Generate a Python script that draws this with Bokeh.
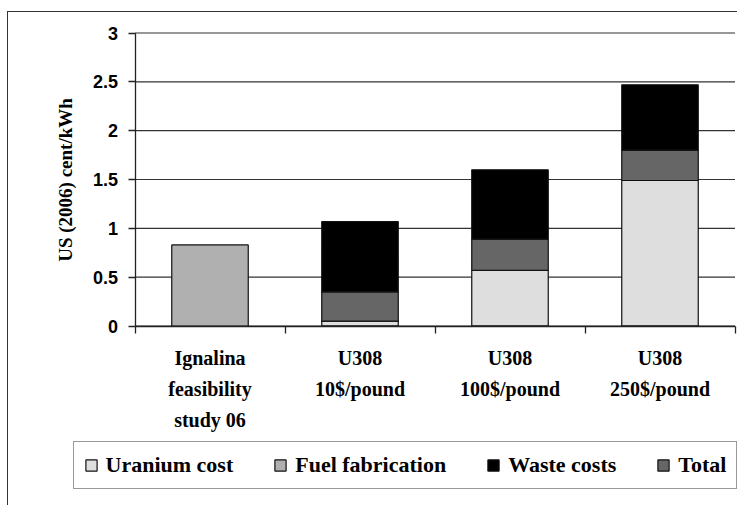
from bokeh.plotting import figure
from bokeh.models import (ColumnDataSource, Range1d, FixedTicker, Legend, LegendItem)
from bokeh.embed import file_html
from bokeh.resources import INLINE

# ---- data ----
categories = ["Ignalina\nfeasibility\nstudy 06", "U308\n10$/pound", "U308\n100$/pound", "U308\n250$/pound"]
uranium_cost = [0.0, 0.05, 0.57, 1.49]
fuel_fabrication = [0.83, 0.0, 0.0, 0.0]
total = [0.0, 0.30, 0.32, 0.31]
waste_costs = [0.0, 0.72, 0.71, 0.67]
y_ticks = [0, 0.5, 1, 1.5, 2, 2.5, 3]
y_tick_labels = ["0", "0.5", "1", "1.5", "2", "2.5", "3"]
series_names = ["Uranium cost", "Fuel fabrication", "Waste costs", "Total"]
colors = {"Uranium cost": "#dedede", "Fuel fabrication": "#b0b0b0",
          "Waste costs": "#000000", "Total": "#666666"}

n_cat = len(categories)
x_pos = [i + 0.5 for i in range(n_cat)]
src = ColumnDataSource(dict(x=x_pos, uranium=uranium_cost, fuel=fuel_fabrication,
                            total=total, waste=waste_costs))
grid_src = ColumnDataSource(dict(y=y_ticks, x0=[0] * len(y_ticks), x1=[n_cat] * len(y_ticks)))

# layout geometry (pixels): the frame covers the whole canvas; axes sit at data zero
W, H = 730, 494
left_px, top_px = 8.5, 12.5          # canvas origin on the page
axis_x_px, y0_px, y3_px = 135.0, 326.0, 33.0
cat_px = 150.0
unit_px = (y0_px - y3_px) / 3.0
x_start = (left_px - axis_x_px) / cat_px
x_end = (left_px + W - axis_x_px) / cat_px
y_end = 3 + (y3_px - top_px) / unit_px
y_start = -(top_px + H - y0_px) / unit_px

p = figure(width=W, height=H, output_backend="svg", toolbar_location=None,
           x_range=Range1d(x_start, x_end), y_range=Range1d(y_start, y_end),
           min_border=0, min_border_left=0, min_border_right=0, min_border_top=0, min_border_bottom=0)
p.styles = {"margin-top": "11px", "margin-left": "7px",
            "border-left": "1.5px solid #333", "border-top": "1.5px solid #333"}
p.outline_line_color = None
p.background_fill_color = "white"
p.border_fill_color = "white"
p.xgrid.grid_line_color = None
p.ygrid.grid_line_color = None

# horizontal gridlines over the plot area only
p.segment(x0="x0", x1="x1", y0="y", y1="y", source=grid_src, line_color="#333333", line_width=1.2)

# bars
stack_r = p.vbar_stack(["uranium", "total", "waste"], x="x", width=0.51, source=src,
                       fill_color=[colors["Uranium cost"], colors["Total"], colors["Waste costs"]],
                       line_color="#111111", line_width=1.2)
fuel_r = p.vbar(x="x", top="fuel", width=0.51, source=src, fill_color=colors["Fuel fabrication"],
                line_color="#111111", line_width=1.2)

# y axis
ya = p.yaxis[0]
ya.fixed_location = 0
ya.bounds = (0, 3)
ya.ticker = FixedTicker(ticks=y_ticks)
ya.major_label_overrides = {t: l for t, l in zip(y_ticks, y_tick_labels)}
ya.major_label_text_font = "Liberation Sans"
ya.major_label_text_font_style = "bold"
ya.major_label_text_font_size = "18px"
ya.major_label_text_color = "black"
ya.major_tick_out = 7
ya.major_tick_in = 0
ya.minor_tick_line_color = None
ya.major_label_standoff = 10
ya.axis_line_color = "#222222"
ya.axis_line_width = 1.3
ya.major_tick_line_color = "#222222"
ya.major_tick_line_width = 1.3
ya.axis_label = "US (2006) cent/kWh"
ya.axis_label_text_font = "Liberation Serif"
ya.axis_label_text_font_style = "bold"
ya.axis_label_text_font_size = "19px"
ya.axis_label_text_color = "black"
ya.axis_label_standoff = 14

# x axis: labels at centers, minor ticks at boundaries
xa = p.xaxis[0]
xa.fixed_location = 0
xa.bounds = (0, n_cat)
xa.ticker = FixedTicker(ticks=x_pos, minor_ticks=list(range(n_cat + 1)))
xa.major_label_overrides = {x: c for x, c in zip(x_pos, categories)}
xa.major_label_text_font = "Liberation Serif"
xa.major_label_text_font_style = "bold"
xa.major_label_text_font_size = "20px"
xa.major_label_text_line_height = 1.4
xa.major_label_text_color = "black"
xa.major_tick_line_color = None
xa.major_tick_out = 0
xa.major_tick_in = 0
xa.minor_tick_out = 7
xa.minor_tick_in = 0
xa.minor_tick_line_color = "#222222"
xa.minor_tick_line_width = 1.3
xa.major_label_standoff = 14
xa.axis_line_color = "#222222"
xa.axis_line_width = 1.3

# legend
rmap = {"Uranium cost": stack_r[0], "Fuel fabrication": fuel_r,
        "Waste costs": stack_r[2], "Total": stack_r[1]}
items = [LegendItem(label=n, renderers=[rmap[n]]) for n in series_names]
legend = Legend(items=items, orientation="horizontal", location=(73 - left_px, top_px + H - 489),
                glyph_width=14, glyph_height=14, label_standoff=8, spacing=40,
                padding=10, margin=0, border_line_color="#333333", border_line_width=1.5,
                label_text_font="Liberation Serif", label_text_font_style="bold",
                label_text_font_size="22px", label_text_color="black",
                background_fill_color="white", background_fill_alpha=1.0)
p.add_layout(legend, "center")

open("out.html", "w").write(file_html(p, INLINE))
